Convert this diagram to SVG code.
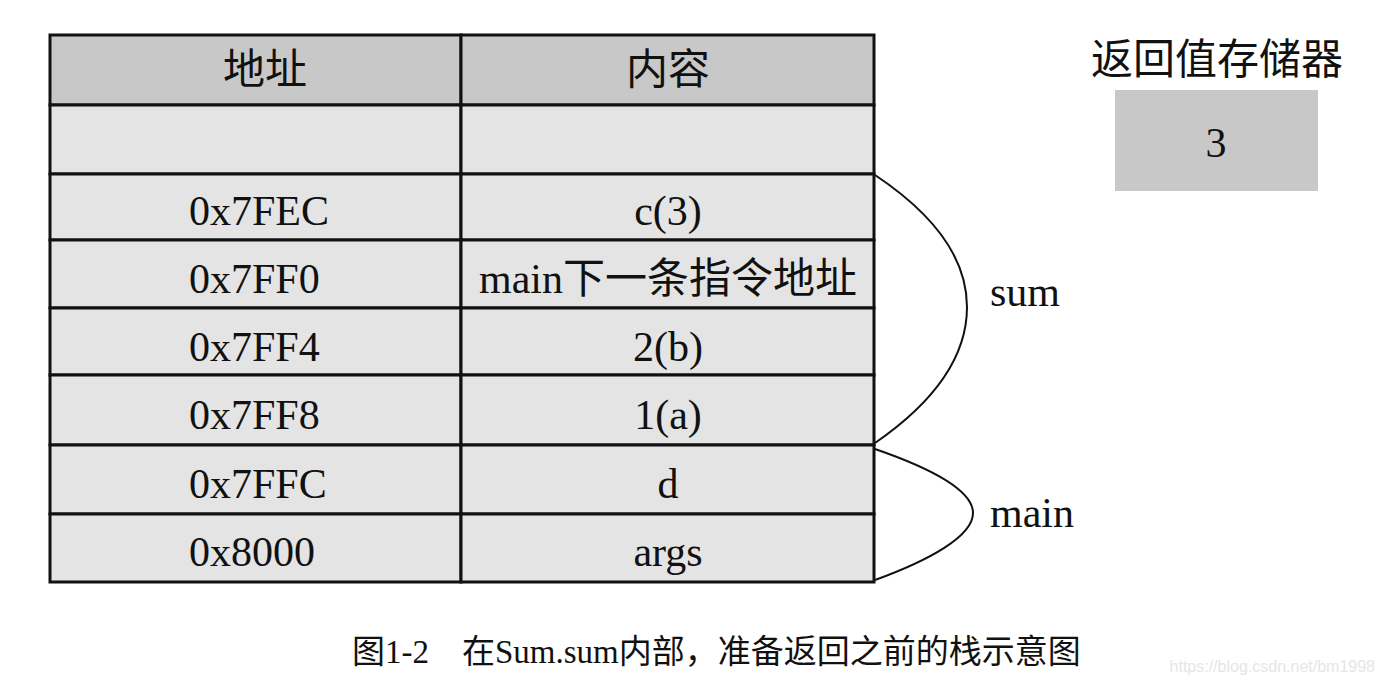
<svg xmlns="http://www.w3.org/2000/svg" width="1385" height="685" viewBox="0 0 1385 685">
<style>
.t{font-family:"Liberation Serif","Noto Sans CJK SC",serif;font-size:42px;fill:#111;text-anchor:middle}
.a{text-anchor:start}
.hd{fill:#c8c8c8;stroke:#111;stroke-width:3}
.rw{fill:#e4e4e4;stroke:#111;stroke-width:3}
.cv{fill:none;stroke:#111;stroke-width:2}
</style>
<rect x="0" y="0" width="1385" height="685" fill="#fff"/>
<g id="header">
<rect class="hd" x="50" y="35" width="411" height="70"/>
<rect class="hd" x="461" y="35" width="413" height="70"/>
<text class="t" x="265" y="84">地址</text>
<text class="t" x="668" y="84">内容</text>
</g>
<g id="row-empty">
<rect class="rw" x="50" y="105" width="411" height="69"/>
<rect class="rw" x="461" y="105" width="413" height="69"/>
</g>
<g id="row-7FEC">
<rect class="rw" x="50" y="174" width="411" height="66"/>
<rect class="rw" x="461" y="174" width="413" height="66"/>
<text class="t a" x="189" y="225">0x7FEC</text>
<text class="t" x="668" y="225">c(3)</text>
</g>
<g id="row-7FF0">
<rect class="rw" x="50" y="240" width="411" height="68"/>
<rect class="rw" x="461" y="240" width="413" height="68"/>
<text class="t a" x="189" y="293">0x7FF0</text>
<text class="t" x="668" y="293">main下一条指令地址</text>
</g>
<g id="row-7FF4">
<rect class="rw" x="50" y="308" width="411" height="67"/>
<rect class="rw" x="461" y="308" width="413" height="67"/>
<text class="t a" x="189" y="361">0x7FF4</text>
<text class="t" x="668" y="361">2(b)</text>
</g>
<g id="row-7FF8">
<rect class="rw" x="50" y="375" width="411" height="70"/>
<rect class="rw" x="461" y="375" width="413" height="70"/>
<text class="t a" x="189" y="429">0x7FF8</text>
<text class="t" x="668" y="429">1(a)</text>
</g>
<g id="row-7FFC">
<rect class="rw" x="50" y="445" width="411" height="69"/>
<rect class="rw" x="461" y="445" width="413" height="69"/>
<text class="t a" x="189" y="498">0x7FFC</text>
<text class="t" x="668" y="498">d</text>
</g>
<g id="row-8000">
<rect class="rw" x="50" y="514" width="411" height="68"/>
<rect class="rw" x="461" y="514" width="413" height="68"/>
<text class="t a" x="189" y="566">0x8000</text>
<text class="t" x="668" y="566">args</text>
</g>
<g id="connectors">
<path class="cv" d="M875,175 C935,215 967,260 967,307 C967,360 930,405 875,443"/>
<path class="cv" d="M875,449 C930,468 973,490 973,513 C973,536 930,560 875,580"/>
</g>
<g id="label-sum"><text class="t" x="1025" y="306">sum</text></g>
<g id="label-main"><text class="t" x="1032" y="527">main</text></g>
<g id="return-register">
<text class="t" x="1217" y="74">返回值存储器</text>
<rect x="1115" y="90" width="203" height="101" fill="#c8c8c8"/>
<text class="t" x="1216" y="157">3</text>
</g>
<g id="caption">
<text x="352" y="663" style="font-family:'Liberation Serif','Noto Sans CJK SC',serif;font-size:33px;fill:#111">图1-2　在Sum.sum内部，准备返回之前的栈示意图</text>
</g>
<text x="1375" y="672" style="font-family:'Liberation Sans',sans-serif;font-size:16px;fill:#e6e6e6;text-anchor:end">https://blog.csdn.net/bm1998</text>
</svg>
